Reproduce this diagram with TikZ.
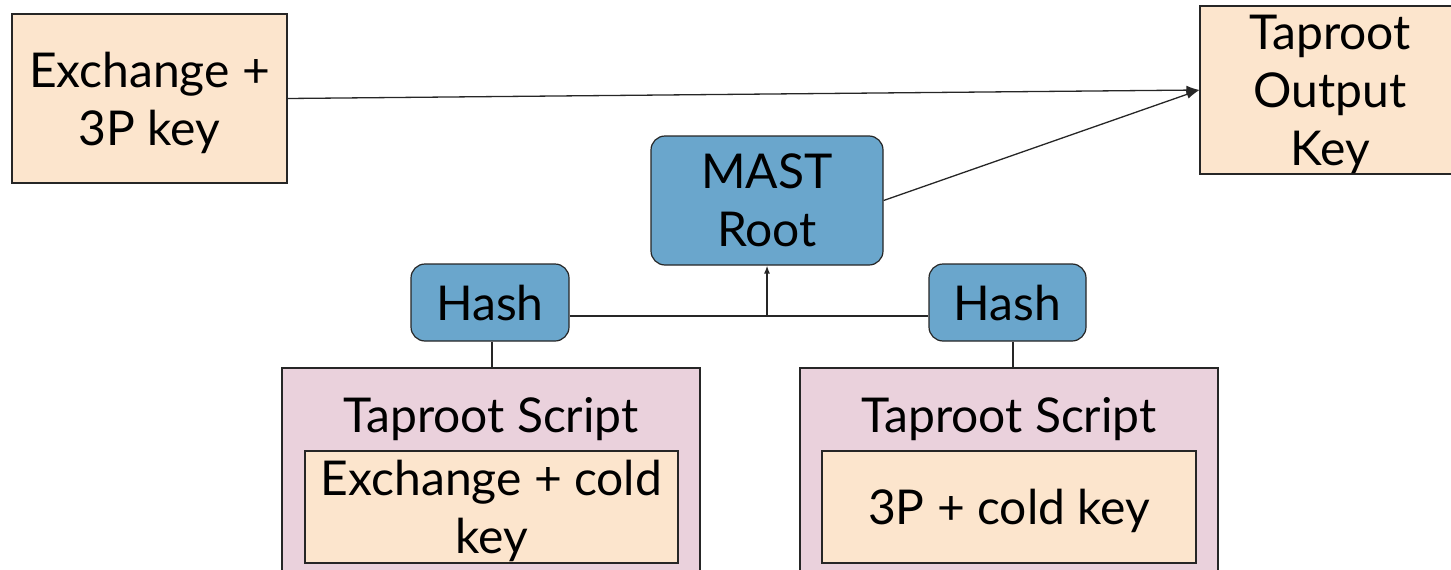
\documentclass[tikz,border=0pt]{standalone}
\usepackage{fontspec}
\setmainfont{Lato}
\usetikzlibrary{arrows.meta}

\definecolor{peach}{HTML}{FCE5CD}
\definecolor{mauve}{HTML}{EAD1DC}
\definecolor{steel}{HTML}{6AA6CC}
\definecolor{edge}{HTML}{262626}

\tikzset{
	keybox/.style={draw=edge, fill=peach, line width=1.2pt, align=center, inner sep=0pt, text depth=0pt},
	hashbox/.style={draw=edge, fill=steel, rounded corners=14pt, line width=1.2pt, align=center, inner sep=0pt, text depth=0pt},
	scriptbox/.style={draw=edge, fill=mauve, line width=1.2pt, inner sep=0pt},
	wire/.style={draw=edge, line width=1.3pt},
}

\begin{document}
\begin{tikzpicture}[x=1pt,y=-1pt,font=\fontsize{48}{58}\selectfont]
	\useasboundingbox (0,0) rectangle (1451,570);

	% keys along the top
	\node[keybox, minimum width=275pt, minimum height=169pt] (ex3p) at (149.5,98.5) {Exchange +\\3P key};
	\node[keybox, minimum width=260pt, minimum height=168pt] (outkey) at (1330,90) {Taproot\\Output\\Key};

	% tree of hashes
	\node[hashbox, minimum width=232pt, minimum height=129pt, text depth=-6pt] (mast) at (767,200.5) {MAST\\Root};
	\node[hashbox, minimum width=158pt, minimum height=77pt] (hashL) at (490,302.5) {Hash};
	\node[hashbox, minimum width=157pt, minimum height=77pt] (hashR) at (1007.5,302.5) {Hash};

	% the two leaf scripts
	\node[scriptbox, minimum width=418pt, minimum height=232pt] (scriptL) at (491,484) {};
	\node[scriptbox, minimum width=418pt, minimum height=232pt] (scriptR) at (1009,484) {};
	\node[anchor=base] (titleL) at (491,432) {Taproot Script};
	\node[anchor=base] (titleR) at (1009,432) {Taproot Script};
	\node[keybox, minimum width=373pt, minimum height=112pt] (leafL) at (491.5,507) {Exchange + cold\\key};
	\node[keybox, minimum width=374pt, minimum height=112pt] (leafR) at (1009,507) {3P + cold key};

	\coordinate (join) at (767,316);
	\coordinate (stemL) at (492,0);
	\coordinate (stemR) at (1013,0);

	\draw[wire] (hashL.east |- join) -- (hashR.west |- join);
	\draw[wire, -{Latex[length=8pt,width=6pt]}] (join) -- (mast.south);
	\draw[wire] (stemL |- hashL.south) -- (stemL |- scriptL.north);
	\draw[wire] (stemR |- hashR.south) -- (stemR |- scriptR.north);

	\draw[wire, -{Latex[length=13pt,width=9pt]}] (ex3p.east) -- (outkey.west);
	\draw[wire, -{Latex[length=13pt,width=9pt]}] (mast.east) -- (outkey.west);
\end{tikzpicture}
\end{document}
